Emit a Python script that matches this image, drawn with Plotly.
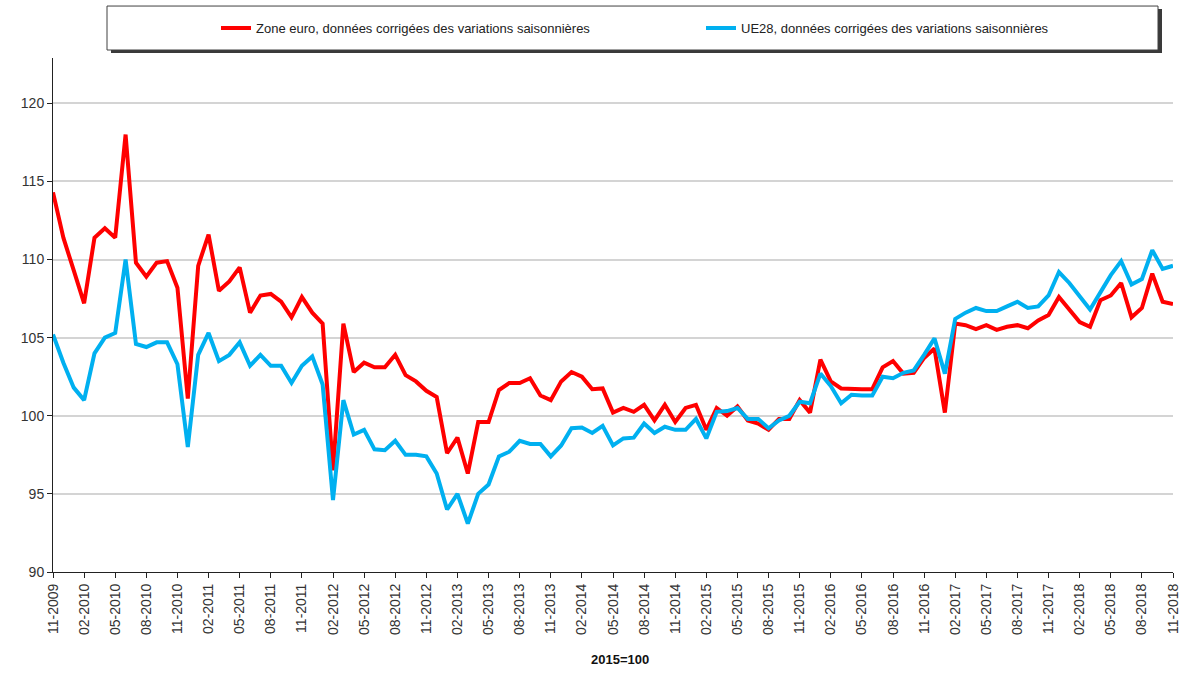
import plotly.graph_objects as go

# Monthly data 11-2009 .. 11-2018 (2015=100)
months = []
for y in range(2009, 2019):
    for m in range(1, 13):
        if (y == 2009 and m < 11) or (y == 2018 and m > 11):
            continue
        months.append(f"{m:02d}-{y}")

zone_euro = [
    114.3, 111.4, 109.3, 107.2, 111.4, 112.0, 111.4, 118.0, 109.8, 108.9,
    109.8, 109.9, 108.2, 101.1, 109.6, 111.6, 108.0, 108.6, 109.5, 106.6,
    107.7, 107.8, 107.3, 106.3, 107.6, 106.6, 105.9, 96.5, 105.9, 102.8,
    103.4, 103.1, 103.1, 103.9, 102.6, 102.2, 101.6, 101.2, 97.6, 98.6,
    96.3, 99.6, 99.6, 101.65, 102.1, 102.1, 102.4, 101.3, 101.0, 102.2,
    102.8, 102.5, 101.7, 101.75, 100.2, 100.5, 100.25, 100.7, 99.7, 100.7,
    99.6, 100.5, 100.7, 99.1, 100.5, 100.0, 100.6, 99.7, 99.5, 99.1,
    99.8, 99.8, 101.0, 100.2, 103.6, 102.2, 101.75, 101.7, 101.7, 101.7,
    103.1, 103.5, 102.7, 102.75, 103.7, 104.3, 100.2, 105.9, 105.8, 105.55,
    105.8, 105.5, 105.7, 105.8, 105.6, 106.1, 106.45, 107.6, 106.8, 106.0,
    105.7, 107.4, 107.7, 108.5, 106.3, 106.9, 109.1, 107.3, 107.15,
]

ue28 = [
    105.2, 103.4, 101.8, 101.0, 104.0, 105.0, 105.3, 110.0, 104.6, 104.4,
    104.7, 104.7, 103.3, 98.0, 103.9, 105.3, 103.5, 103.9, 104.7, 103.2,
    103.9, 103.2, 103.2, 102.1, 103.2, 103.8, 102.0, 94.6, 101.0, 98.8,
    99.1, 97.85, 97.8, 98.4, 97.5, 97.5, 97.4, 96.3, 94.0, 95.0,
    93.1, 95.0, 95.6, 97.4, 97.7, 98.4, 98.2, 98.2, 97.4, 98.1,
    99.2, 99.25, 98.9, 99.35, 98.1, 98.55, 98.6, 99.5, 98.9, 99.3,
    99.1, 99.1, 99.8, 98.55, 100.25, 100.3, 100.5, 99.8, 99.8, 99.2,
    99.7, 100.0, 100.9, 100.8, 102.7, 101.9, 100.8, 101.35, 101.3, 101.3,
    102.5, 102.4, 102.75, 102.9, 103.9, 104.95, 102.7, 106.2, 106.6, 106.9,
    106.7, 106.7, 107.0, 107.3, 106.9, 107.0, 107.7, 109.2, 108.5, 107.6,
    106.8, 107.9, 109.0, 109.9, 108.4, 108.75, 110.6, 109.4, 109.6,
]

series_names = [
    "Zone euro, données corrigées des variations saisonnières",
    "UE28, données corrigées des variations saisonnières",
]
series_colors = ["#ff0000", "#00b0f0"]

y_ticks = [90, 95, 100, 105, 110, 115, 120]

x_idx = list(range(len(months)))
tick_idx = x_idx[::3]
tick_text = months[::3]

fig = go.Figure()
for name, vals, col in zip(series_names, [zone_euro, ue28], series_colors):
    fig.add_trace(go.Scatter(
        x=x_idx, y=vals, mode="lines", name=name,
        line=dict(color=col, width=4),
    ))

# plot area in pixels: left 53, right 1173, top 58, bottom 572.4
W, H = 1184, 673
L, R, T, B = 53, 11, 58, 100.6
pw, ph = W - L - R, H - T - B

def px(x):
    return (x - L) / pw

def py(y):
    return (H - B - y) / ph

shapes = [
    # legend shadow
    dict(type="rect", xref="paper", yref="paper",
         x0=px(111), x1=px(1162), y0=py(53), y1=py(9),
         fillcolor="#3a3a3a", line=dict(width=0), layer="below"),
    # legend box
    dict(type="rect", xref="paper", yref="paper",
         x0=px(107), x1=px(1158), y0=py(50), y1=py(6),
         fillcolor="white", line=dict(color="#404040", width=1), layer="below"),
]

fig.update_layout(
    width=W, height=H,
    margin=dict(l=L, r=R, t=T, b=B, pad=0, autoexpand=False),
    paper_bgcolor="white", plot_bgcolor="white",
    font=dict(family="Liberation Sans, Arial, sans-serif", color="#333333"),
    showlegend=True,
    legend=dict(
        orientation="h", x=px(216), y=py(28), xanchor="left", yanchor="middle",
        xref="paper", yref="paper",
        font=dict(size=13, color="#222222"),
        bgcolor="rgba(0,0,0,0)", borderwidth=0,
        entrywidth=440, entrywidthmode="pixels",
        itemwidth=30,
    ),
    shapes=shapes,
    xaxis=dict(
        range=[0, len(months) - 1],
        tickmode="array", tickvals=tick_idx, ticktext=tick_text,
        tickangle=-90, tickfont=dict(size=14, color="#333333"),
        showgrid=False, zeroline=False,
        showline=True, linecolor="#222222", linewidth=1,
        ticks="outside", ticklen=5, tickcolor="#222222",
        automargin=False,
    ),
    yaxis=dict(
        range=[90, 122.9],
        tickmode="array", tickvals=y_ticks,
        tickfont=dict(size=14, color="#333333"),
        showgrid=True, gridcolor="#d4d4d4", gridwidth=2,
        zeroline=False,
        showline=True, linecolor="#222222", linewidth=1,
        ticks="outside", ticklen=5, tickcolor="#222222",
        automargin=False,
    ),
    annotations=[dict(
        text="<b>2015=100</b>", xref="paper", yref="paper",
        x=px(620), y=py(660), xanchor="center", yanchor="middle",
        showarrow=False, font=dict(size=13, color="#111111"),
    )],
)

fig.write_html(
    "out.html",
    config={"displayModeBar": False},
    post_script="document.body.style.margin='0';document.body.style.padding='0';",
)
